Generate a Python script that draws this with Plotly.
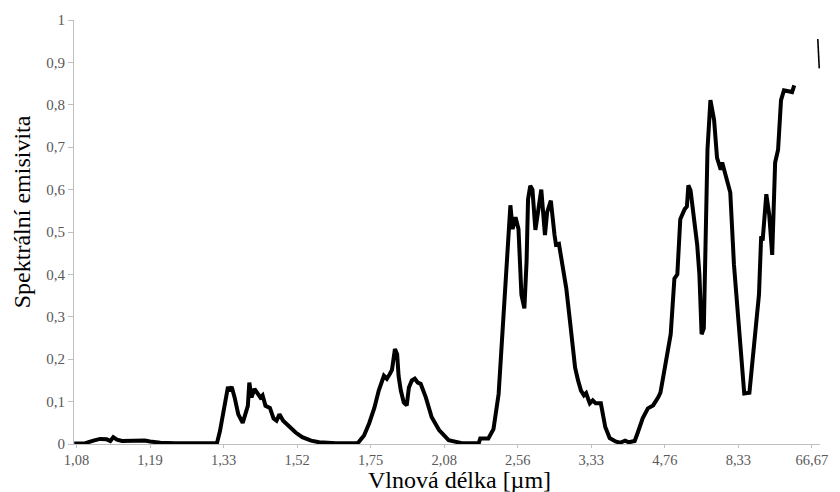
import plotly.graph_objects as go

# Spectral emissivity sampled along the category axis.
# x_pos: position along the axis in units of labelled categories (0 = 1,08 µm ... 10 = 66,67 µm)
x_pos = [
    -0.03, 0.12, 0.23, 0.32, 0.41, 0.46, 0.50, 0.55, 0.62, 0.73, 0.84, 0.93, 1.00, 1.14, 1.34, 1.61,
    1.91, 1.95, 2.02, 2.06, 2.08, 2.11, 2.15, 2.20, 2.26, 2.30, 2.33, 2.35, 2.38, 2.42, 2.46, 2.50,
    2.53, 2.57, 2.63, 2.68, 2.72, 2.76, 2.81, 2.90, 2.98, 3.07, 3.19, 3.30, 3.53, 3.82,
    3.84, 3.91, 3.98, 4.05, 4.11, 4.18, 4.22, 4.26, 4.29, 4.33, 4.36, 4.38, 4.41, 4.45, 4.49, 4.52,
    4.56, 4.60, 4.64, 4.68, 4.75, 4.83, 4.93, 5.06, 5.24, 5.47, 5.49, 5.60, 5.67,
    5.74, 5.81, 5.85, 5.90, 5.93, 5.97, 6.01, 6.05, 6.09, 6.12, 6.14, 6.17, 6.20, 6.24, 6.32, 6.37,
    6.40, 6.45, 6.50, 6.52, 6.56, 6.62, 6.66, 6.71, 6.78, 6.82, 6.86, 6.90, 6.93, 6.96, 6.98, 7.02,
    7.06, 7.13, 7.19, 7.25, 7.33, 7.39, 7.46, 7.51, 7.59,
    7.63, 7.70, 7.77, 7.84, 7.91, 7.94, 7.97, 8.04, 8.08, 8.13, 8.17, 8.21, 8.27, 8.30, 8.32, 8.35,
    8.40, 8.44, 8.47, 8.50, 8.53, 8.55, 8.58, 8.62, 8.67, 8.71, 8.76, 8.78, 8.82, 8.89, 8.94, 9.01,
    9.08, 9.15, 9.22, 9.28, 9.31, 9.33, 9.38, 9.42, 9.46, 9.50, 9.54, 9.58, 9.62, 9.69, 9.73, 9.76,
]
emissivity = [
    0.001, 0.002, 0.008, 0.012, 0.011, 0.007, 0.016, 0.010, 0.007, 0.008, 0.008, 0.008, 0.006, 0.003, 0.002, 0.001,
    0.002, 0.030, 0.100, 0.135, 0.125, 0.135, 0.110, 0.070, 0.050, 0.070, 0.090, 0.145, 0.110, 0.130, 0.120, 0.110,
    0.115, 0.090, 0.085, 0.060, 0.055, 0.070, 0.055, 0.040, 0.027, 0.016, 0.008, 0.004, 0.002, 0.002,
    0.005, 0.020, 0.049, 0.085, 0.126, 0.161, 0.154, 0.165, 0.175, 0.224, 0.212, 0.160, 0.126, 0.098, 0.091, 0.133,
    0.150, 0.154, 0.145, 0.142, 0.110, 0.063, 0.033, 0.009, 0.002, 0.002, 0.013, 0.013, 0.035,
    0.118, 0.313, 0.430, 0.563, 0.507, 0.535, 0.507, 0.352, 0.320, 0.430, 0.577, 0.609, 0.600, 0.505, 0.600, 0.493,
    0.547, 0.574, 0.493, 0.470, 0.472, 0.414, 0.367, 0.290, 0.180, 0.150, 0.126, 0.115, 0.120, 0.105, 0.096, 0.103,
    0.096, 0.096, 0.040, 0.014, 0.006, 0.003, 0.008, 0.004, 0.007,
    0.026, 0.061, 0.084, 0.091, 0.110, 0.121, 0.150, 0.220, 0.259, 0.390, 0.400, 0.530, 0.554, 0.560, 0.610, 0.598,
    0.523, 0.470, 0.400, 0.259, 0.273, 0.477, 0.694, 0.811, 0.764, 0.675, 0.647, 0.664, 0.640, 0.593, 0.423, 0.273,
    0.119, 0.121, 0.250, 0.352, 0.490, 0.480, 0.589, 0.540, 0.446, 0.664, 0.694, 0.811, 0.834, 0.832, 0.830, 0.846,
]

# Isolated short piece at the far-infrared end
tail_pos = [10.08, 10.10]
tail_emissivity = [0.955, 0.886]

# Wavelength labels of the categories [µm]
tick_labels = ["1,08", "1,19", "1,33", "1,52", "1,75", "2,08", "2,56", "3,33", "4,76", "8,33", "66,67"]
tick_pos = list(range(len(tick_labels)))

FONT = "Liberation Serif, Times New Roman, serif"
AXIS_GREY = "#bfbfbf"
LABEL_GREY = "#595959"

fig = go.Figure()
fig.add_trace(go.Scatter(
    x=x_pos, y=emissivity, mode="lines",
    line=dict(color="black", width=4), hoverinfo="skip", showlegend=False,
))
fig.add_trace(go.Scatter(
    x=tail_pos, y=tail_emissivity, mode="lines",
    line=dict(color="black", width=1.6), hoverinfo="skip", showlegend=False,
))

fig.update_layout(
    width=840, height=492,
    margin=dict(l=73.5, r=17, t=14, b=48),
    paper_bgcolor="white", plot_bgcolor="white",
    separators=",.",
    font=dict(family=FONT, color=LABEL_GREY, size=15),
    xaxis=dict(
        range=[-0.034, 10.11],
        tickmode="array", tickvals=tick_pos, ticktext=tick_labels,
        showline=True, linecolor=AXIS_GREY, linewidth=1,
        ticks="outside", ticklen=3, tickcolor=AXIS_GREY,
        showgrid=False, zeroline=False,
        tickfont=dict(family=FONT, size=14.5, color=LABEL_GREY),
    ),
    yaxis=dict(
        range=[0, 1], dtick=0.1, tick0=0,
        showline=True, linecolor=AXIS_GREY, linewidth=1,
        ticks="outside", ticklen=5, tickcolor=AXIS_GREY,
        showgrid=False, zeroline=False,
        tickfont=dict(family=FONT, size=15, color=LABEL_GREY),
    ),
    annotations=[
        dict(text="Vlnová délka [µm]", xref="paper", yref="paper",
             x=0.517, y=-0.086, xanchor="center", yanchor="middle",
             showarrow=False, font=dict(family=FONT, size=24, color="black")),
        dict(text="Spektrální emisivita", xref="paper", yref="paper",
             x=-0.0695, y=0.547, xanchor="center", yanchor="middle", textangle=-90,
             showarrow=False, font=dict(family=FONT, size=24, color="black")),
    ],
)

fig.write_html("out.html")
